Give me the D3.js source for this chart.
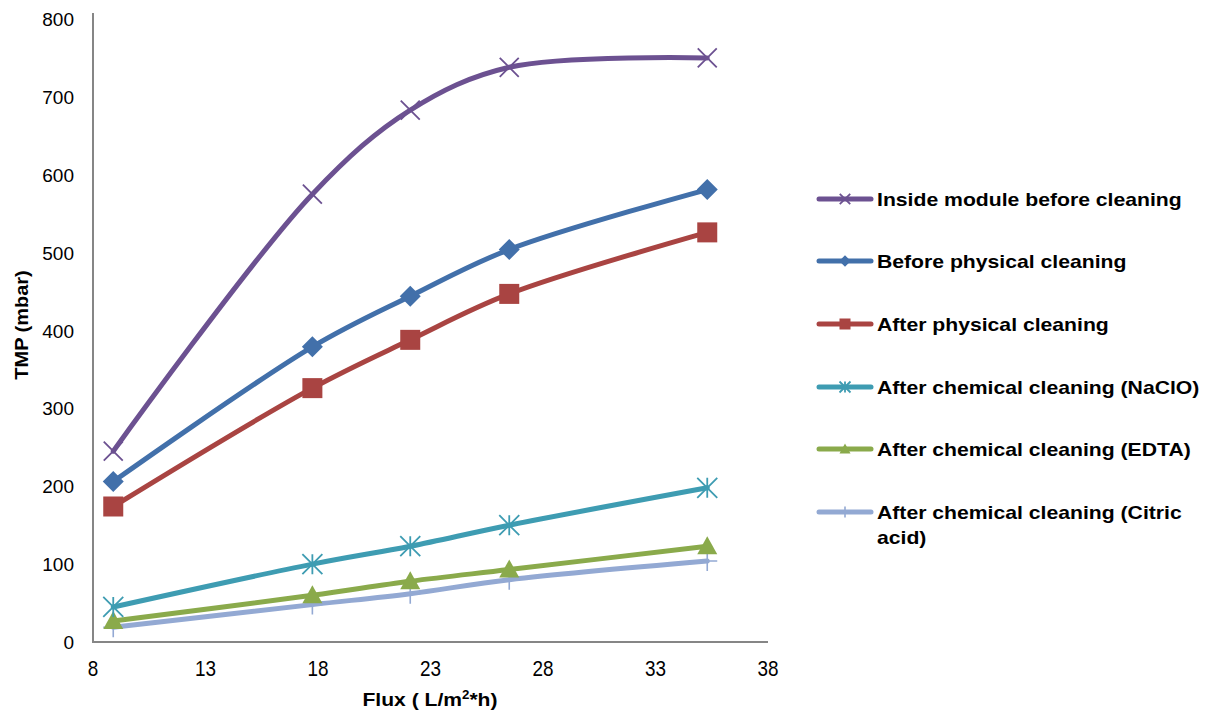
<!DOCTYPE html>
<html><head><meta charset="utf-8">
<script src="https://cdn.jsdelivr.net/npm/d3@7"></script>
<style>body{margin:0;background:#fff}svg{display:block}text{font-family:"Liberation Sans",Arial,sans-serif}</style>
</head><body>
<svg id="c" width="1206" height="712"></svg>
<script>
const flux = [8.9, 17.75, 22.1, 26.5, 35.3];
const seriesNames = ["Inside module before cleaning","Before physical cleaning","After physical cleaning","After chemical cleaning (NaClO)","After chemical cleaning (EDTA)","After chemical cleaning (Citric acid)"];
const insideBefore = [245, 575, 683, 738, 750];
const beforePhys = [206, 379, 444, 504, 581];
const afterPhys = [174, 326, 388, 447, 526];
const afterNaClO = [45, 100, 123, 150, 198];
const afterEDTA = [27, 60, 78, 93, 123];
const afterCitric = [19, 48, 62, 80, 104];
const xTicks = [8, 13, 18, 23, 28, 33, 38];
const yTicks = [0, 100, 200, 300, 400, 500, 600, 700, 800];

const colors = ["#6C5191","#4270AA","#A94442","#3E9CB2","#8AAA4B","#93A9D3"];
const symbols = ["x","diamond","square","asterisk","triangle","plus"];
const allVals = [insideBefore, beforePhys, afterPhys, afterNaClO, afterEDTA, afterCitric];

const svg = d3.select("#c");
const x = d3.scaleLinear().domain([8,38]).range([93,768]);
const y = d3.scaleLinear().domain([0,800]).range([642,19]);

svg.append("line").attr("x1",93).attr("x2",93).attr("y1",13).attr("y2",642).attr("stroke","#868686").attr("stroke-width",2);
svg.append("line").attr("x1",92).attr("x2",768).attr("y1",642).attr("y2",642).attr("stroke","#868686").attr("stroke-width",2);

svg.selectAll(".yt").data(yTicks).join("text").attr("x",74).attr("y",d=>y(d)+7)
  .attr("text-anchor","end").attr("font-size",19).attr("fill","#000").text(d=>d);
svg.selectAll(".xt").data(xTicks).join("text")
  .attr("transform",d=>`translate(${x(d)},676) scale(0.86,1)`)
  .attr("text-anchor","middle").attr("font-size",22).attr("fill","#000").text(d=>d);

svg.append("text").attr("transform","translate(28,325) rotate(-90) scale(1.05,1)").attr("text-anchor","middle")
  .attr("font-size",19).attr("font-weight","bold").text("TMP (mbar)");
const xl = svg.append("text").attr("transform","translate(430,706) scale(1.11,1)").attr("text-anchor","middle").attr("font-size",19).attr("font-weight","bold");
xl.append("tspan").text("Flux ( L/m");
xl.append("tspan").attr("font-size",12).attr("dy",-7).text("2");
xl.append("tspan").attr("dy",7).text("*h)");

function marker(g, type, color, cx, cy, scale=1){
  const s = scale;
  if(type==="x"){
    const r=9.5*s;
    g.append("path").attr("d",`M${cx-r},${cy-r}L${cx+r},${cy+r}M${cx-r},${cy+r}L${cx+r},${cy-r}`).attr("stroke",color).attr("stroke-width",1.8);
  } else if(type==="diamond"){
    const r=10.5*s;
    g.append("path").attr("d",`M${cx},${cy-r}L${cx+r},${cy}L${cx},${cy+r}L${cx-r},${cy}Z`).attr("fill",color);
  } else if(type==="square"){
    const r=10*s;
    g.append("rect").attr("x",cx-r).attr("y",cy-r).attr("width",2*r).attr("height",2*r).attr("fill",color);
  } else if(type==="asterisk"){
    const r=10*s;
    g.append("path").attr("d",`M${cx-r},${cy-r}L${cx+r},${cy+r}M${cx-r},${cy+r}L${cx+r},${cy-r}M${cx},${cy-r}L${cx},${cy+r}`).attr("stroke",color).attr("stroke-width",1.8);
  } else if(type==="triangle"){
    const r=10*s;
    g.append("path").attr("d",`M${cx},${cy-r}L${cx+r},${cy+r*0.8}L${cx-r},${cy+r*0.8}Z`).attr("fill",color);
  } else if(type==="plus"){
    const r=10*s;
    g.append("path").attr("d",`M${cx-r},${cy}L${cx+r},${cy}M${cx},${cy-r}L${cx},${cy+r}`).attr("stroke",color).attr("stroke-width",1.6);
  }
}

const line = d3.line().x(d=>x(d[0])).y(d=>y(d[1])).curve(d3.curveCatmullRom.alpha(0.5));
[5,4,3,2,1,0].forEach(i=>{
  const pts = flux.map((f,j)=>[f, allVals[i][j]]);
  const g = svg.append("g");
  g.append("path").attr("d",line(pts)).attr("fill","none").attr("stroke",colors[i]).attr("stroke-width",5).attr("stroke-linecap","round");
  pts.forEach(p=>marker(g, symbols[i], colors[i], x(p[0]), y(p[1])));
});

const legY = [199, 261, 324, 387, 449, 512];
seriesNames.forEach((n,i)=>{
  const g = svg.append("g");
  g.append("line").attr("x1",819).attr("x2",871).attr("y1",legY[i]).attr("y2",legY[i]).attr("stroke",colors[i]).attr("stroke-width",5).attr("stroke-linecap","round");
  marker(g, symbols[i], colors[i], 845, legY[i], 0.55);
  const t = g.append("text").attr("transform",`translate(877,${legY[i]+7}) scale(1.115,1)`).attr("font-size",19).attr("font-weight","bold").attr("fill","#000");
  if(i===5){
    t.append("tspan").attr("x",0).text("After chemical cleaning (Citric");
    t.append("tspan").attr("x",0).attr("dy",25).text("acid)");
  } else t.text(n);
});
</script>
</body></html>
